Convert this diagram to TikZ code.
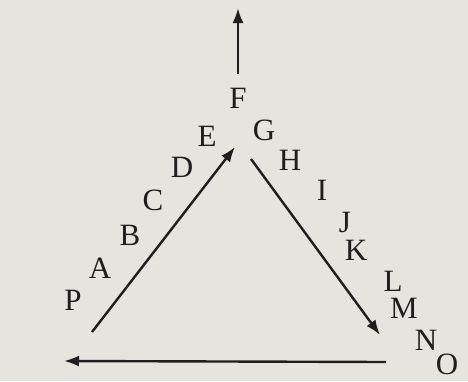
\documentclass[tikz,border=0pt]{standalone}
\usepackage{fontspec}
\setmainfont{Liberation Serif}
\usetikzlibrary{arrows.meta}
\definecolor{paper}{HTML}{E6E4DF}
\definecolor{ink}{HTML}{1E1E1E}
\begin{document}
\begin{tikzpicture}[x=1pt,y=-1pt,
  lab/.style={font=\fontsize{31}{31}\selectfont, text=ink, inner sep=0pt, anchor=center},
  arr/.style={draw=ink, line width=2.4pt, -{Latex[length=15pt,width=11pt]}}]
\fill[paper] (0,0) rectangle (468,381);
\useasboundingbox (0,0) rectangle (468,381);
% letters
\node[lab] (F) at (238,98) {F};
\node[lab] (E) at (207,136) {E};
\node[lab] (G) at (264,130) {G};
\node[lab] (D) at (182,167) {D};
\node[lab] (C) at (153,200) {C};
\node[lab] (B) at (130,235) {B};
\node[lab] (A) at (100,268) {A};
\node[lab] (P) at (73,300) {P};
\node[lab] (H) at (290,160) {H};
\node[lab] (I) at (322,190) {I};
\node[lab] (J) at (345,222) {J};
\node[lab] (K) at (356,250) {K};
\node[lab] (L) at (393,281) {L};
\node[lab] (M) at (404,308) {M};
\node[lab] (N) at (426,340) {N};
\node[lab] (O) at (447,364) {O};
% arrow end points
\coordinate (upS) at (238,74);
\coordinate (upT) at (238,8);
\coordinate (lS) at (92,332);
\coordinate (lT) at (235,147);
\coordinate (rS) at (251,159);
\coordinate (rT) at (380,335);
\coordinate (bS) at (386,362);
\coordinate (bT) at (64,361);
\draw[arr] (upS) -- (upT);
\draw[arr] (lS) -- (lT);
\draw[arr] (rS) -- (rT);
\draw[arr] (bS) -- (bT);
\end{tikzpicture}
\end{document}
